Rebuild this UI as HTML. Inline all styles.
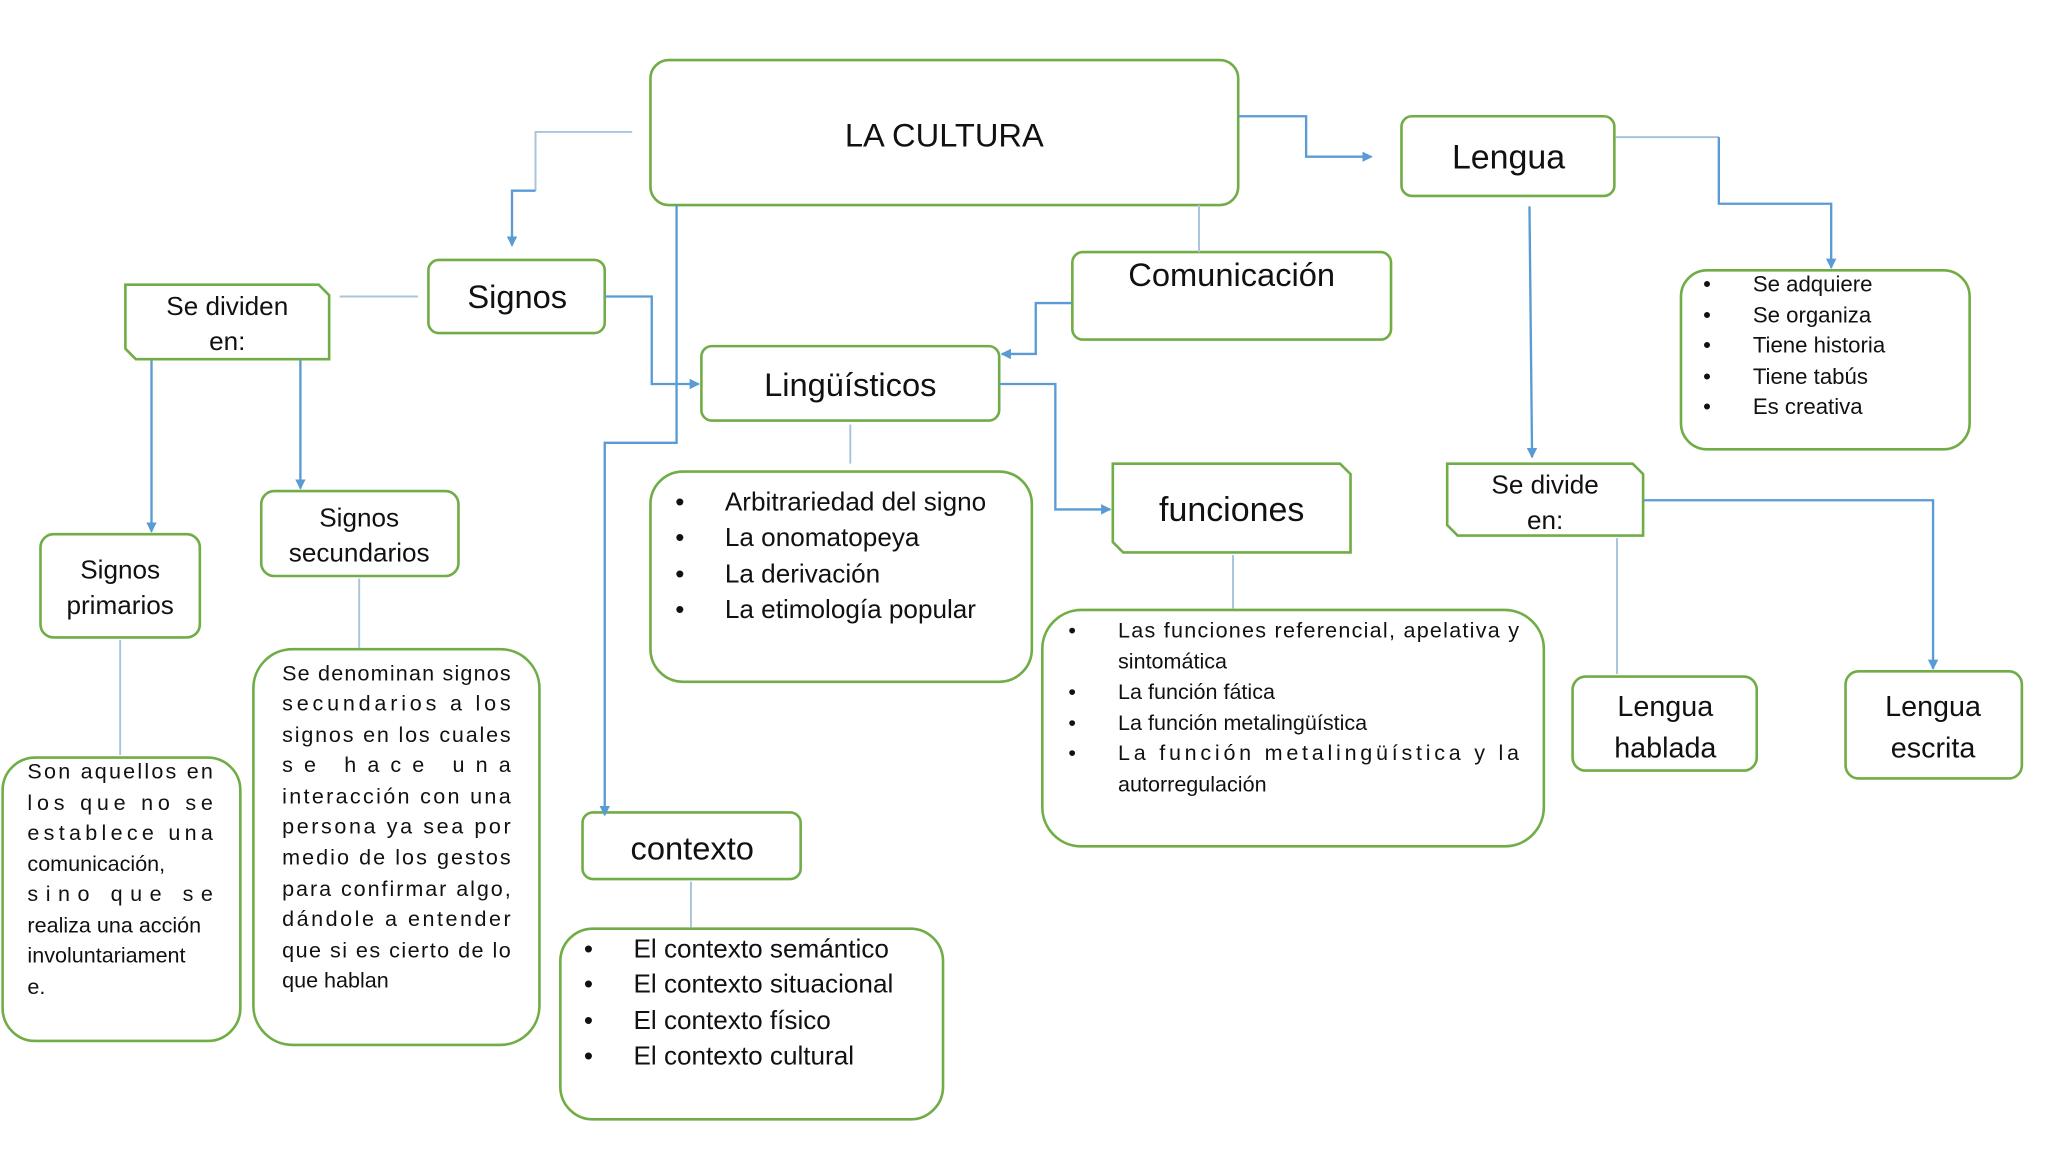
<!DOCTYPE html>
<html><head><meta charset="utf-8"><style>
html,body{margin:0;padding:0;background:#fff;}
svg{display:block;}
text{font-family:"Liberation Sans",sans-serif;fill:#111;}
</style></head><body>
<svg width="2048" height="1152" viewBox="0 0 1568 882" xmlns="http://www.w3.org/2000/svg">
<defs>
<marker id="a" markerWidth="8" markerHeight="8" refX="7" refY="4" orient="auto" markerUnits="userSpaceOnUse"><path d="M0,0 L8,4 L0,8 z" fill="#5b9bd5"/></marker>
</defs>
<g fill="#fff" stroke="#70ad47" stroke-width="2">
<rect x="498" y="46" width="450" height="111" rx="14"/>
<rect x="1073" y="89" width="163" height="61" rx="8"/>
<rect x="328" y="199" width="135" height="56" rx="8"/>
<rect x="821" y="193" width="244" height="67" rx="8"/>
<path d="M96,218 H244 L252,226 V275 H104 L96,267 Z"/>
<rect x="537" y="265" width="228" height="57" rx="8"/>
<rect x="1287" y="207" width="221" height="137" rx="20"/>
<path d="M1108,355 H1250 L1258,363 V410 H1116 L1108,402 Z"/>
<path d="M852,355 H1026 L1034,363 V423 H860 L852,415 Z"/>
<rect x="31" y="409" width="122" height="79" rx="10"/>
<rect x="200" y="376" width="151" height="65" rx="10"/>
<rect x="498" y="361" width="292" height="161" rx="25"/>
<rect x="798" y="467" width="384" height="181" rx="30"/>
<rect x="1204" y="518" width="141" height="72" rx="10"/>
<rect x="1413" y="514" width="135" height="82" rx="10"/>
<rect x="2" y="580" width="182" height="217" rx="25"/>
<rect x="194" y="497" width="219" height="303" rx="30"/>
<rect x="446" y="622" width="167" height="51" rx="8"/>
<rect x="429" y="711" width="293" height="146" rx="25"/>
</g>
<g fill="none" stroke="#a9c4dc" stroke-width="1.5">
<path d="M484,101 H410 V146"/>
<path d="M918,157 V193"/><path d="M320,227 H260"/><path d="M651,325 V355"/>
<path d="M944,425 V466"/><path d="M275,443 V496"/><path d="M92,490 V578"/>
<path d="M529,675 V710"/><path d="M1238,412 V516"/><path d="M1237,105 H1316"/>
</g>
<g fill="none" stroke="#5b9bd5" stroke-width="1.8">
<path d="M410,146 H392 V188" marker-end="url(#a)"/>
<path d="M948,89 H1000 V120 H1050" marker-end="url(#a)"/>
<path d="M1316,105 V156 H1402 V205" marker-end="url(#a)"/>
<path d="M1171,158 L1173,350" marker-end="url(#a)"/>
<path d="M821,232 H793 V271 H767" marker-end="url(#a)"/>
<path d="M463,227 H499 V294 H535" marker-end="url(#a)"/>
<path d="M518,157 V339 H463 V624" marker-end="url(#a)"/>
<path d="M765,294 H808 V390 H850" marker-end="url(#a)"/>
<path d="M116,276 V407" marker-end="url(#a)"/>
<path d="M230,276 V374" marker-end="url(#a)"/>
<path d="M1258,383 H1480 V512" marker-end="url(#a)"/>
</g>
<g text-anchor="middle">
<text x="723" y="112" font-size="25">LA CULTURA</text>
<text x="1155" y="129" font-size="26">Lengua</text>
<text x="396" y="236" font-size="25">Signos</text>
<text x="943" y="219" font-size="25">Comunicación</text>
<text x="174" y="241" font-size="20">Se dividen</text>
<text x="174" y="268" font-size="20">en:</text>
<text x="651" y="303" font-size="25">Lingüísticos</text>
<text x="1183" y="378" font-size="20">Se divide</text>
<text x="1183" y="405" font-size="20">en:</text>
<text x="943" y="399" font-size="26">funciones</text>
<text x="92" y="443" font-size="20">Signos</text>
<text x="92" y="470" font-size="20">primarios</text>
<text x="275" y="403" font-size="20">Signos</text>
<text x="275" y="430" font-size="20">secundarios</text>
<text x="1275" y="548" font-size="22">Lengua</text>
<text x="1275" y="580" font-size="22">hablada</text>
<text x="1480" y="548" font-size="22">Lengua</text>
<text x="1480" y="580" font-size="22">escrita</text>
<text x="530" y="658" font-size="25">contexto</text>
</g>
<g font-size="17">
<text x="1304" y="223">•</text><text x="1342" y="223">Se adquiere</text>
<text x="1304" y="247">•</text><text x="1342" y="247">Se organiza</text>
<text x="1304" y="270">•</text><text x="1342" y="270">Tiene historia</text>
<text x="1304" y="294">•</text><text x="1342" y="294">Tiene tabús</text>
<text x="1304" y="317">•</text><text x="1342" y="317">Es creativa</text>
</g>
<g font-size="20">
<text x="517" y="391">•</text><text x="555" y="391">Arbitrariedad del signo</text>
<text x="517" y="418">•</text><text x="555" y="418">La onomatopeya</text>
<text x="517" y="446">•</text><text x="555" y="446">La derivación</text>
<text x="517" y="473">•</text><text x="555" y="473">La etimología popular</text>
<text x="447" y="733">•</text><text x="485" y="733">El contexto semántico</text>
<text x="447" y="760">•</text><text x="485" y="760">El contexto situacional</text>
<text x="447" y="788">•</text><text x="485" y="788">El contexto físico</text>
<text x="447" y="815">•</text><text x="485" y="815">El contexto cultural</text>
</g>
<g font-size="16.5">
<text x="818" y="488">•</text><text x="856" y="488" textLength="307" lengthAdjust="spacing">Las funciones referencial, apelativa y</text>
<text x="856" y="512">sintomática</text>
<text x="818" y="535">•</text><text x="856" y="535">La función fática</text>
<text x="818" y="559">•</text><text x="856" y="559">La función metalingüística</text>
<text x="818" y="582">•</text><text x="856" y="582" textLength="307" lengthAdjust="spacing">La función metalingüística   y la</text>
<text x="856" y="606">autorregulación</text>
</g>
<g font-size="16.5">
<text x="21" y="596" textLength="142" lengthAdjust="spacing">Son aquellos en</text>
<text x="21" y="620" textLength="142" lengthAdjust="spacing">los que no se</text>
<text x="21" y="643" textLength="142" lengthAdjust="spacing">establece una</text>
<text x="21" y="667">comunicación,</text>
<text x="21" y="690" textLength="142" lengthAdjust="spacing">sino que se</text>
<text x="21" y="714">realiza una acción</text>
<text x="21" y="737">involuntariament</text>
<text x="21" y="761">e.</text>
<text x="216" y="521" textLength="175" lengthAdjust="spacing">Se denominan signos</text>
<text x="216" y="544" textLength="175" lengthAdjust="spacing">secundarios a los</text>
<text x="216" y="568" textLength="175" lengthAdjust="spacing">signos en los cuales</text>
<text x="216" y="591" textLength="175" lengthAdjust="spacing">se hace una</text>
<text x="216" y="615" textLength="175" lengthAdjust="spacing">interacción con una</text>
<text x="216" y="638" textLength="175" lengthAdjust="spacing">persona ya sea por</text>
<text x="216" y="662" textLength="175" lengthAdjust="spacing">medio de los gestos</text>
<text x="216" y="686" textLength="175" lengthAdjust="spacing">para confirmar algo,</text>
<text x="216" y="709" textLength="175" lengthAdjust="spacing">dándole a entender</text>
<text x="216" y="733" textLength="175" lengthAdjust="spacing">que si es cierto de lo</text>
<text x="216" y="756">que hablan</text>
</g>
</svg>
</body></html>
